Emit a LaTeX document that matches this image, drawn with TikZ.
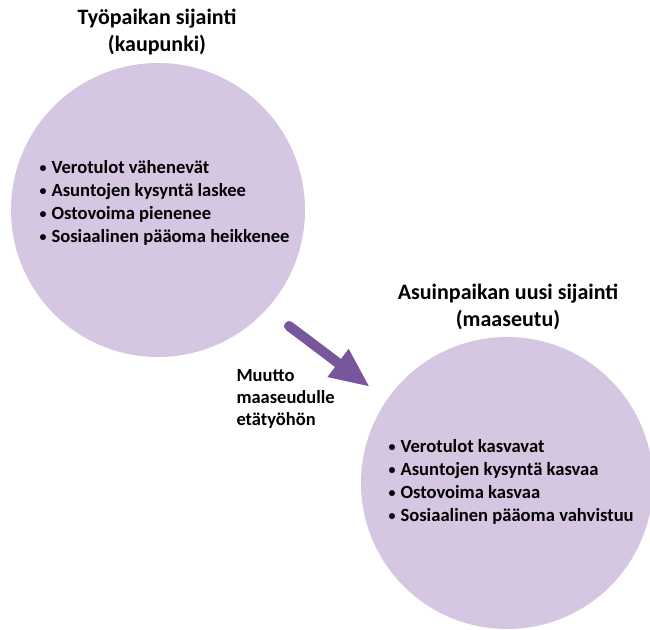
\documentclass[tikz,border=0pt]{standalone}
\usepackage{fontspec}
\setmainfont{Carlito}
\definecolor{circlelilac}{RGB}{213, 198, 225}
\definecolor{movepurple}{RGB}{120, 86, 156}
\usetikzlibrary{arrows.meta, positioning}

\begin{document}
\begin{tikzpicture}[x=1pt, y=1pt]
  \useasboundingbox (0,0) rectangle (650,-629);

  % City (workplace)
  \node[circle, fill=circlelilac, inner sep=0pt, minimum size=294pt] (city) at (158,-210) {};
  \node[align=center, font=\bfseries\fontsize{22}{27}\selectfont] (citytitle) at (157,-32) {
    Työpaikan sijainti\\(kaupunki)
  };
  \node[anchor=west, align=left, font=\bfseries\fontsize{18.6}{23}\selectfont] (citylist) at (36,-203) {
    \raisebox{1.5pt}{\fontsize{14}{14}\selectfont\textbullet}\hspace{5pt}Verotulot vähenevät\\
    \raisebox{1.5pt}{\fontsize{14}{14}\selectfont\textbullet}\hspace{5pt}Asuntojen kysyntä laskee\\
    \raisebox{1.5pt}{\fontsize{14}{14}\selectfont\textbullet}\hspace{5pt}Ostovoima pienenee\\
    \raisebox{1.5pt}{\fontsize{14}{14}\selectfont\textbullet}\hspace{5pt}Sosiaalinen pääoma heikkenee
  };

  % Countryside (new home)
  \node[circle, fill=circlelilac, inner sep=0pt, minimum size=292pt] (rural) at (507,-483) {};
  \node[align=center, font=\bfseries\fontsize{22}{27}\selectfont] (ruraltitle) at (508,-307) {
    Asuinpaikan uusi sijainti\\(maaseutu)
  };
  \node[anchor=west, align=left, font=\bfseries\fontsize{18.6}{23}\selectfont] (rurallist) at (385,-482) {
    \raisebox{1.5pt}{\fontsize{14}{14}\selectfont\textbullet}\hspace{5pt}Verotulot kasvavat\\
    \raisebox{1.5pt}{\fontsize{14}{14}\selectfont\textbullet}\hspace{5pt}Asuntojen kysyntä kasvaa\\
    \raisebox{1.5pt}{\fontsize{14}{14}\selectfont\textbullet}\hspace{5pt}Ostovoima kasvaa\\
    \raisebox{1.5pt}{\fontsize{14}{14}\selectfont\textbullet}\hspace{5pt}Sosiaalinen pääoma vahvistuu
  };

  % Move
  \coordinate (movestart) at (289,-326);
  \coordinate (moveend) at (370,-387);
  \draw[movepurple, line width=10pt, line cap=round, -{Triangle[length=40pt, width=32pt]}] (movestart) -- (moveend);
  \node[anchor=west, align=left, font=\bfseries\fontsize{18.5}{22}\selectfont] (movelabel) at (233,-399) {
    Muutto\\maaseudulle\\etätyöhön
  };
\end{tikzpicture}
\end{document}
